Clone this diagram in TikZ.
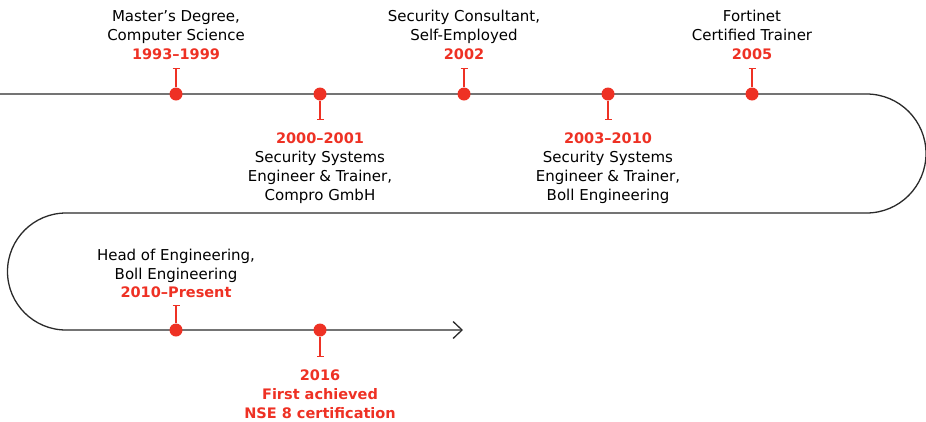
\documentclass[tikz,border=0pt]{standalone}
\usepackage{fontspec}
\setmainfont{DejaVu Sans}
\usetikzlibrary{arrows.meta}
\definecolor{fortired}{HTML}{EE3124}
\definecolor{trackgray}{HTML}{2A2A2A}
\newcommand{\yeartext}[1]{\textcolor{fortired}{\fontsize{14.5}{18.8}\selectfont\bfseries #1}}

\begin{document}
\begin{tikzpicture}[x=1pt,y=-1pt,
    track/.style={draw=trackgray,line width=1.3pt},
    dot/.style={circle,fill=fortired,inner sep=0pt,minimum size=13pt},
    stem/.style={draw=fortired,line width=1.1pt,{Bar[width=7pt,line width=1.1pt]}-},
    caption/.style={align=center,inner sep=0pt,
        font=\fontsize{15}{18.8}\selectfont}]
    \useasboundingbox (0,0) rectangle (926,421);
    % the track, turning twice
    \coordinate (start) at (0,94);
    \coordinate (turnR) at (866.5,94);
    \coordinate (backR) at (866.5,213);
    \coordinate (turnL) at (66,213);
    \coordinate (backL) at (66,330);
    \coordinate (finish) at (463,330);
    \draw[track,-{Straight Barb[length=9pt,width=17pt]}]
        (start) -- (turnR)
        arc[start angle=-90,end angle=90,radius=59.5] -- (turnL)
        arc[start angle=-90,end angle=-270,radius=58.5] -- (finish);
    % milestones
    \foreach \xpos/\ypos/\stemy[count=\n] in {%
        176/94/68,
        320/94/120,
        464/94/68,
        608/94/120,
        752/94/68,
        176/330/305,
        320/330/357%
    }{
        \node[dot] (m\n) at (\xpos,\ypos) {};
        \coordinate (s\n) at (\xpos,\stemy);
        \draw[stem] (s\n) -- (m\n);
    }
    \path[nodes={caption}]
        (176,35) node (t1) {Master’s Degree,\\Computer Science\\\yeartext{1993–1999}}
        (320,168) node (t2) {\yeartext{2000–2001}\\Security Systems\\Engineer \& Trainer,\\Compro GmbH}
        (464,35) node (t3) {Security Consultant,\\Self-Employed\\\yeartext{2002}}
        (608,168) node (t4) {\yeartext{2003–2010}\\Security Systems\\Engineer \& Trainer,\\Boll Engineering}
        (752,35) node (t5) {Fortinet\\Certified Trainer\\\yeartext{2005}}
        (176,273.5) node (t6) {Head of Engineering,\\Boll Engineering\\\yeartext{2010–Present}}
        (320,394.5) node (t7) {\yeartext{2016}\\\yeartext{First achieved}\\\yeartext{NSE 8 certification}};
\end{tikzpicture}
\end{document}
